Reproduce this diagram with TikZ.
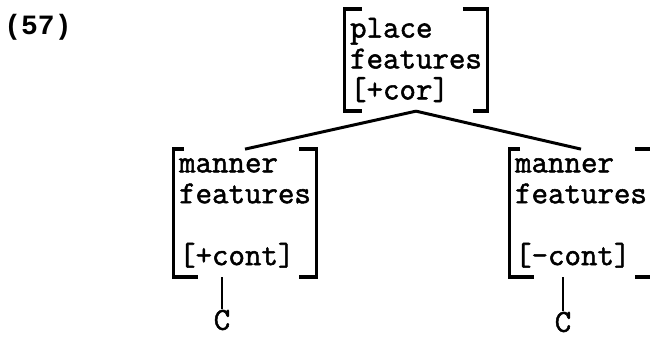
\documentclass[tikz,border=0pt]{standalone}
\usepackage{fontspec}
\newfontfamily\numfont{Liberation Mono}
\newfontfamily\typefont{Latin Modern Mono}[FakeBold=1.6]
\usetikzlibrary{positioning}

\begin{document}
\begin{tikzpicture}[
    x=0.02cm, y=-0.02cm,
    tw/.style={font=\typefont\fontsize{18.2}{17.6}\selectfont},
    feat/.style={tw, align=left, inner xsep=3pt, inner ysep=5pt},
    brk/.style={line width=2pt},
    branch/.style={line width=1.7pt}
]
\useasboundingbox (0,0) rectangle (650,337);

\node[font=\numfont\bfseries\fontsize{15.9}{17.6}\selectfont] (num) at (38,27) {(57)};

\node[feat] (place) at (416,60) {place\\features\\{[}+cor]};
\node[feat] (lman) at (245,213) {manner\\features\\\mbox{}\\{[}+cont]};
\node[feat] (rman) at (581,213) {manner\\features\\\mbox{}\\{[}-cont]};

\node[tw, inner sep=0pt] (lc) at (222,320) {C};
\node[tw, inner sep=0pt] (rc) at (563,322) {C};

% brackets
\draw[brk] ([xshift=10pt]place.north west) -- (place.north west) -- (place.south west) -- ([xshift=10pt]place.south west);
\draw[brk] ([xshift=-14pt]place.north east) -- (place.north east) -- (place.south east) -- ([xshift=-8pt]place.south east);
\draw[brk] ([xshift=6pt]lman.north west) -- (lman.north west) -- (lman.south west) -- ([xshift=14pt]lman.south west);
\draw[brk] ([xshift=-10pt]lman.north east) -- (lman.north east) -- (lman.south east) -- ([xshift=-10pt]lman.south east);
\draw[brk] ([xshift=6pt]rman.north west) -- (rman.north west) -- (rman.south west) -- ([xshift=14pt]rman.south west);
\draw[brk] ([xshift=-10pt]rman.north east) -- (rman.north east) -- (rman.south east) -- ([xshift=-10pt]rman.south east);

% tree
\draw[branch] (place.south) -- (lman.north);
\draw[branch] (place.south) -- (rman.north);
\draw[branch] (lc) -- (lc |- lman.south);
\draw[branch] (rc.north) -- (rc |- rman.south);
\end{tikzpicture}
\end{document}
